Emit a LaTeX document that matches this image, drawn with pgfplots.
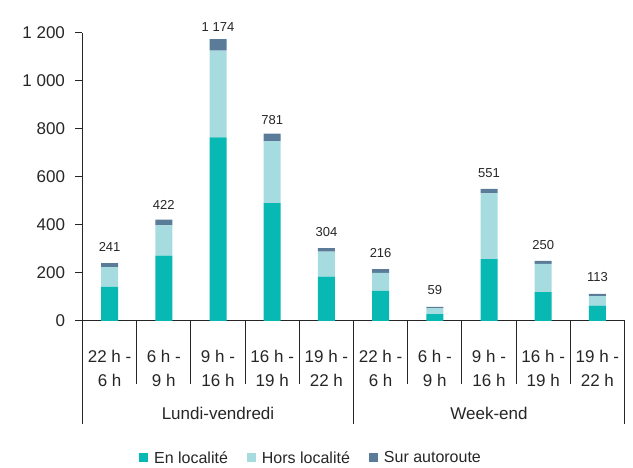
\documentclass[border=0pt]{standalone}
\usepackage{fontspec}
\setmainfont{Liberation Sans}
\usepackage{pgfplots}
\usepackage{pgfplotstable}
\pgfplotsset{compat=1.18}
\definecolor{cEn}{HTML}{08B8B3}
\definecolor{cHors}{HTML}{A6DCDF}
\definecolor{cSur}{HTML}{5B7C99}
\definecolor{txt}{HTML}{262626}

\pgfplotstableread{
x en hors sur total
0 142 82 17 241
1 272 126 24 422
2 765 362 47 1174
3 491 258 32 781
4 185 104 15 304
5 125 75 16 216
6 29 25 5 59
7 258 274 19 551
8 120 118 12 250
9 64 40 9 113
}\data

\begin{document}
\begin{tikzpicture}
\path[use as bounding box] (-82.5pt,-147pt) rectangle (550.5pt,321pt);
\begin{axis}[
  at={(0,0)}, anchor=south west,
  scale only axis, width=542pt, height=288pt,
  xmin=-0.5, xmax=9.5, ymin=0, ymax=1200,
  ybar stacked, bar width=17pt,
  axis x line*=bottom, axis y line*=left,
  axis line style={-, line width=1pt, color=txt},
  xtick={0,...,9},
  xticklabels={{22 h -\\6 h},{6 h -\\9 h},{9 h -\\16 h},{16 h -\\19 h},{19 h -\\22 h},{22 h -\\6 h},{6 h -\\9 h},{9 h -\\16 h},{16 h -\\19 h},{19 h -\\22 h}},
  x tick style={draw=none},
  xticklabel style={font=\fontsize{17}{24}\selectfont, color=txt, align=center, anchor=center, yshift=-40pt},
  ytick={0,200,...,1200},
  y tick style={line width=1pt, color=txt},
  tick align=outside, major tick length=7pt,
  yticklabel style={font=\fontsize{17}{20}\selectfont, color=txt, xshift=-7pt},
  /pgf/number format/1000 sep={\ },
  /pgf/number format/assume math mode=true,
  clip=false,
  legend style={at={(0.4216,-0.4757)}, anchor=center, draw=none, fill=none,
    legend columns=3, font=\fontsize{16}{20}\selectfont, text=txt,
    /tikz/every odd column/.append style={column sep=4pt},
    /tikz/every even column/.append style={column sep=17pt}},
]
\addplot[fill=cEn, draw=none, legend image code/.code={\fill[cEn] (0pt,-4.5pt) rectangle (9pt,4.5pt);}] table[x=x, y=en] {\data};
\addlegendentry{En localité}
\addplot[fill=cHors, draw=none, legend image code/.code={\fill[cHors] (0pt,-4.5pt) rectangle (9pt,4.5pt);}] table[x=x, y=hors] {\data};
\addlegendentry{Hors localité}
\addplot[fill=cSur, draw=none, legend image code/.code={\fill[cSur] (0pt,-4.5pt) rectangle (9pt,4.5pt);},
  nodes near coords, point meta=explicit,
  nodes near coords style={font=\fontsize{13}{15}\selectfont, text=txt, anchor=south, inner sep=0pt, yshift=13pt,
    /pgf/number format/1000 sep={\ }, /pgf/number format/assume math mode=true}]
  table[x=x, y=sur, meta=total] {\data};
\addlegendentry{Sur autoroute}
\end{axis}
\foreach \k in {1,2,3,4,6,7,8,9} \draw[line width=1pt, color=txt] (\k*54.2pt,0) -- ++(0,-63pt);
\foreach \k in {0,5,10} \draw[line width=1pt, color=txt] (\k*54.2pt,0) -- ++(0,-103pt);
\node[font=\fontsize{17}{20}\selectfont, text=txt] at (135.5pt,-92pt) {Lundi-vendredi};
\node[font=\fontsize{17}{20}\selectfont, text=txt] at (406.5pt,-92pt) {Week-end};
\end{tikzpicture}
\end{document}
